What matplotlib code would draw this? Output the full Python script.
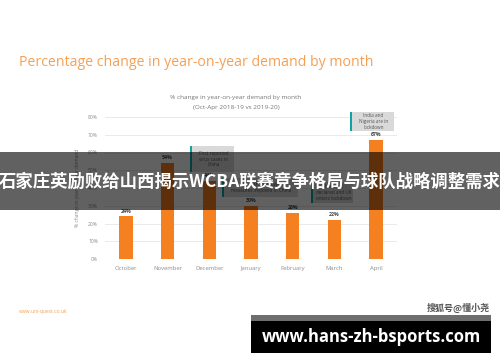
import matplotlib
matplotlib.use("Agg")
import matplotlib.pyplot as plt
from matplotlib.patches import Rectangle

months = ["October", "November", "December", "January", "February", "March", "April"]
pct_change = [24, 54, 44, 30, 26, 22, 67]
y_ticks = [0, 10, 20, 30, 40, 50, 60, 70, 80]
notes = ["First reported\nvirus cases in\nChina",
         "Wuhan lockdown\nmeasures imposed in China",
         "Pandemic\ndeclared and UK\nenters lockdown",
         "India and\nNigeria are in\nlockdown"]

W, H = 500, 362
fig = plt.figure(figsize=(W / 100, H / 100), dpi=100)
fig.patch.set_facecolor("white")

def fx(x):
    return x / W

def fy(y):
    return 1 - y / H

ORANGE = "#F4801F"
GREY = "#8C8C8C"
BODY = ["Open Sans", "DejaVu Sans"]

ax = fig.add_axes([fx(105), fy(259), fx(397) - fx(105), fy(117) - fy(259)])
bars = ax.bar(range(len(months)), pct_change, width=0.32, color=ORANGE, zorder=3)
ax.set_xlim(-0.5, len(months) - 0.5)
ax.set_ylim(0, 80)
ax.set_yticks(y_ticks)
ax.set_yticklabels([f"{v}%" for v in y_ticks], fontsize=3.6, color=GREY, family=BODY)
ax.set_xticks(range(len(months)))
ax.set_xticklabels(months, fontsize=4.2, color=GREY, family=BODY)
ax.tick_params(length=0, pad=5)
ax.grid(axis="y", color="#E6E6E6", linewidth=0.6, zorder=0)
for s in ax.spines.values():
    s.set_visible(False)
for i, v in enumerate(pct_change):
    ax.text(i, v + 1.5, f"{v}%", ha="center", va="bottom", fontsize=3.8,
            fontweight="bold", color="#444444", family=BODY)

fig.text(fx(78), fy(188), "% change in year-on-year demand", rotation=90,
         ha="center", va="center", fontsize=3.6, color=GREY, family=BODY)

fig.text(fx(236), fy(98), "% change in year-on-year demand by month",
         ha="center", va="center", fontsize=4.6, color="#777777", family=BODY)
fig.text(fx(236), fy(107), "(Oct-Apr 2018-19 vs 2019-20)",
         ha="center", va="center", fontsize=4.6, color="#777777", family=BODY)

# annotation boxes (x0, y0, x1, y1 in pixels)
boxes = [(190, 146, 234, 172), (222, 178, 298, 197), (311, 182, 353, 203), (350, 112, 394, 131)]
for (x0, y0, x1, y1), t in zip(boxes, notes):
    fig.patches.append(Rectangle((fx(x0), fy(y1)), fx(x1 - x0), fy(0) - fy(y1 - y0),
                                 transform=fig.transFigure, facecolor="#D9D9D9",
                                 edgecolor="none", zorder=5))
    fig.patches.append(Rectangle((fx(x0), fy(y1)), fx(2), fy(0) - fy(y1 - y0),
                                 transform=fig.transFigure, facecolor="#0FA3A3",
                                 edgecolor="none", zorder=6))
    fig.text(fx((x0 + 3 + x1) / 2), fy((y0 + y1) / 2), t, ha="center", va="center",
             fontsize=3.3, color="#555555", family=BODY, linespacing=1.15, zorder=7)

fig.text(fx(19), fy(62), "Percentage change in year-on-year demand by month",
         ha="left", va="center", fontsize=10.2, color="#F5A055", family=BODY)
fig.text(fx(19), fy(311), "www.uni-quest.co.uk", ha="left", va="center",
         fontsize=3.6, color="#F5A055", family=BODY)

# overlay banner
fig.patches.append(Rectangle((0, fy(210)), 1, fy(152) - fy(210), transform=fig.transFigure,
                             facecolor="black", alpha=0.62, edgecolor="none", zorder=20))
fig.text(0.5, fy(182), "石家庄英励败给山西揭示WCBA联赛竞争格局与球队战略调整需求",
         ha="center", va="center", fontsize=12.5, fontweight="bold", color="white",
         family=["Noto Sans CJK SC", "DejaVu Sans"], zorder=21)

# watermark
fig.patches.append(Rectangle((fx(251), fy(321)), fx(240), fy(315) - fy(321),
                             transform=fig.transFigure, facecolor="#6E6E6E",
                             edgecolor="none", zorder=20))
fig.patches.append(Rectangle((fx(251), fy(353)), fx(240), fy(321) - fy(353),
                             transform=fig.transFigure, facecolor="black",
                             edgecolor="none", zorder=20))
fig.text(fx(371), fy(337), "www.hans-zh-bsports.com", ha="center", va="center",
         fontsize=12, fontweight="bold", color="white", family=BODY, zorder=21)
fig.text(fx(490), fy(308), "搜狐号@懂小尧", ha="right", va="center", fontsize=6.5,
         fontweight="bold", color="#555555",
         family=["Noto Sans CJK SC", "DejaVu Sans"], zorder=21)

fig.savefig("out.png", dpi=100)
